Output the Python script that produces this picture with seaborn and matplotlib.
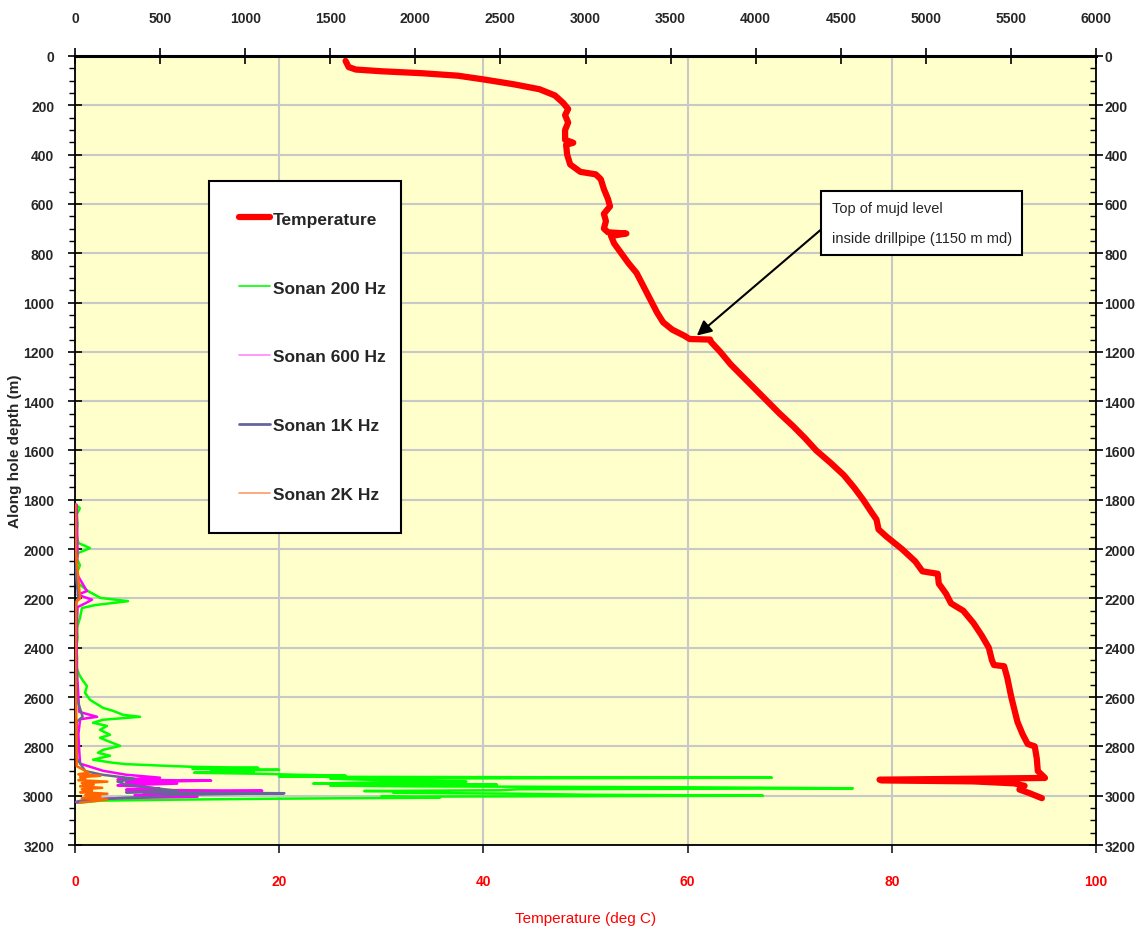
import numpy as np
import pandas as pd
import matplotlib
matplotlib.use("Agg")
import matplotlib.pyplot as plt
import seaborn as sns
from matplotlib.ticker import MultipleLocator
from matplotlib.lines import Line2D

# ---------------- data ----------------
temp_depth = [20, 45, 55, 62, 70, 80, 95, 115, 135, 160, 190, 215, 240, 270, 300, 340, 352, 360,
              400, 440, 470, 480, 500, 540, 580, 610, 640, 670, 700, 715, 720, 730, 760, 800,
              840, 880, 920, 960, 1000, 1040, 1080, 1110, 1135, 1148, 1150, 1160, 1200, 1250,
              1300, 1350, 1400, 1450, 1500, 1550, 1600, 1650, 1700, 1750, 1800, 1850, 1880,
              1920, 1950, 2000, 2050, 2090, 2100, 2140, 2180, 2220, 2250, 2300, 2350, 2400,
              2450, 2470, 2475, 2520, 2560, 2600, 2650, 2700, 2750, 2790, 2800, 2850, 2900,
              2928, 2935, 2938, 2942, 2950, 2960, 2975, 2990, 3010]
temp_val = [26.5, 26.8, 27.5, 30.0, 34.0, 37.5, 40.0, 43.0, 45.5, 47.0, 47.8, 48.3, 48.0, 48.3,
            48.0, 48.0, 48.8, 48.1, 48.2, 48.5, 49.5, 51.0, 51.5, 51.8, 52.2, 52.4, 51.8, 52.0,
            51.8, 52.2, 54.0, 52.5, 52.8, 53.5, 54.2, 55.0, 55.5, 56.0, 56.5, 57.0, 57.6, 58.5,
            59.7, 60.2, 62.2, 62.3, 63.2, 64.2, 65.4, 66.6, 67.8, 69.0, 70.3, 71.5, 72.6, 74.0,
            75.3, 76.3, 77.2, 78.0, 78.5, 78.7, 79.5, 81.0, 82.3, 83.0, 84.5, 84.6, 85.3, 85.8,
            87.0, 88.0, 88.8, 89.5, 89.8, 90.0, 91.0, 91.3, 91.5, 91.7, 92.0, 92.3, 92.8, 93.3,
            94.0, 94.2, 94.3, 95.0, 78.8, 79.0, 88.0, 92.0, 93.0, 92.5, 93.5, 94.7]

s200_depth = [1820, 1834, 1860, 1900, 1940, 1975, 1996, 2016, 2040, 2065, 2100, 2138, 2170, 2198,
              2211, 2227, 2239, 2279, 2320, 2360, 2400, 2440, 2482, 2510, 2534, 2555, 2583, 2611,
              2644, 2656, 2672, 2680, 2692, 2704, 2717, 2733, 2753, 2765, 2777, 2798, 2814, 2826,
              2838, 2854, 2866, 2872, 2879, 2883, 2887, 2891, 2895, 2899, 2903, 2907, 2911, 2915,
              2919, 2923, 2927, 2931, 2935, 2939, 2943, 2947, 2951, 2955, 2959, 2962, 2966, 2970,
              2974, 2978, 2981, 2984, 2988, 2992, 2996, 3000, 3004, 3008, 3012, 3016, 3020, 3028]
s200_val = [5, 29, 10, 15, 8, 20, 88, 18, 12, 29, 10, 18, 76, 150, 312, 118, 41, 29, 12, 15, 8, 12,
            10, 25, 47, 70, 59, 88, 165, 224, 282, 382, 165, 106, 188, 147, 206, 147, 188, 265,
            165, 135, 206, 106, 218, 300, 540, 700, 1076, 690, 1200, 800, 1050, 700, 1088, 1300,
            1590, 1200, 4095, 1500, 1700, 2000, 2300, 1700, 1400, 2480, 1500, 2000, 3600, 4571,
            2600, 2500, 1700, 2200, 1870, 2600, 3000, 4043, 1800, 2145, 1200, 600, 150, 20]

s600_depth = [1820, 1900, 2000, 2100, 2170, 2185, 2205, 2220, 2235, 2300, 2400, 2500, 2600, 2660,
              2680, 2690, 2750, 2820, 2870, 2899, 2915, 2927, 2935, 2939, 2945, 2951, 2958, 2964,
              2972, 2976, 2980, 2986, 2992, 2998, 3004, 3010, 3016, 3028]
s600_val = [10, 12, 15, 10, 70, 15, 100, 60, 15, 12, 10, 12, 20, 25, 130, 30, 20, 25, 30, 165, 300,
            500, 250, 800, 300, 600, 250, 400, 500, 300, 1100, 400, 800, 350, 720, 250, 100, 10]

s1k_depth = [1820, 1950, 2100, 2200, 2215, 2400, 2600, 2680, 2700, 2850, 2900, 2915, 2931, 2943,
             2955, 2968, 2980, 2986, 2990, 2996, 3004, 3016, 3025]
s1k_val = [5, 6, 5, 20, 8, 5, 8, 45, 10, 12, 60, 160, 350, 250, 300, 450, 600, 300, 1230, 600,
           450, 60, 5]

s2k_depth = [1820, 2000, 2200, 2215, 2500, 2700, 2880, 2907, 2913, 2919, 2925, 2931, 2937, 2943,
             2949, 2955, 2962, 2968, 2974, 2980, 2986, 2992, 2998, 3004, 3010, 3016, 3028]
s2k_val = [3, 4, 30, 5, 3, 8, 10, 80, 20, 150, 30, 60, 20, 190, 40, 110, 30, 160, 40, 100, 30,
           190, 60, 150, 40, 190, 30]

series_labels = ["Temperature", "Sonan 200 Hz", "Sonan 600 Hz", "Sonan 1K Hz", "Sonan 2K Hz"]
series_colors = ["#FF0000", "#00FF00", "#FF00FF", "#666699", "#FF6600"]

depth_ticks = list(range(0, 3201, 200))
temp_ticks = [0, 20, 40, 60, 80, 100]
sonan_ticks = list(range(0, 6001, 500))

# ---------------- style ----------------
sns.set_theme(style="white")
plt.rcParams['font.family'] = ['Liberation Sans', 'DejaVu Sans']

fig = plt.figure(figsize=(11.44, 9.37), dpi=100)
ax = fig.add_axes([0.06556, 0.0971, 0.8925, 0.8421])
ax.set_facecolor('#FFFFCC')

temp_df = pd.DataFrame({"depth": temp_depth, "T": temp_val})
sns.lineplot(data=temp_df, x="T", y="depth", sort=False, estimator=None,
             color=series_colors[0], lw=4.5, ax=ax, legend=False)

ax.set_xlim(0, 100)
ax.set_ylim(3200, 0)
ax.set_xticks(temp_ticks)
ax.set_yticks(depth_ticks)
ax.yaxis.set_minor_locator(MultipleLocator(50))
ax.grid(True, which='major', color='#C8C8C8', lw=1.5)
ax.set_axisbelow(True)

ax.tick_params(axis='x', which='both', bottom=False, top=False, labelbottom=True,
               labeltop=False, labelcolor='red', labelsize=10, pad=15)
ax.tick_params(axis='y', which='major', left=True, right=False, labelleft=True, labelright=False,
               direction='inout', length=10, width=1.2, color='black', labelsize=10, pad=10)
ax.tick_params(axis='y', which='minor', left=True, right=False, direction='out', length=4,
               width=1.0, color='black')
for lab in ax.get_xticklabels() + ax.get_yticklabels():
    lab.set_fontweight('bold')

ax.set_xlabel("Temperature (deg C)", color='red', fontsize=11)
ax.xaxis.set_label_coords(0.5, -0.084)
ax.set_ylabel("Along hole depth (m)", fontsize=11, fontweight='bold')
ax.yaxis.set_label_coords(-0.052, 0.5)

for sp in ax.spines.values():
    sp.set_color('black')
    sp.set_linewidth(1.3)
ax.spines['top'].set_linewidth(2.2)

# sonan series on the top axis
ax2 = ax.twiny()
for d, v, c in [(s200_depth, s200_val, series_colors[1]),
                (s600_depth, s600_val, series_colors[2]),
                (s1k_depth, s1k_val, series_colors[3]),
                (s2k_depth, s2k_val, series_colors[4])]:
    df = pd.DataFrame({"depth": d, "v": v})
    sns.lineplot(data=df, x="v", y="depth", sort=False, estimator=None, color=c, lw=1.8,
                 ax=ax2, legend=False)
ax2.set_xlim(0, 6000)
ax.set_ylim(3200, 0)
ax2.set_xticks(sonan_ticks)
ax2.set_xlabel("")
ax2.tick_params(axis='x', top=True, direction='inout', length=12, width=1.2, color='black',
                labelsize=10, pad=16)
for lab in ax2.get_xticklabels():
    lab.set_fontweight('bold')
for sp in ax2.spines.values():
    sp.set_visible(False)

# right-hand depth labels
ax3 = ax.twinx()
ax3.set_ylim(3200, 0)
ax3.set_yticks(depth_ticks)
ax3.yaxis.set_minor_locator(MultipleLocator(50))
ax3.tick_params(axis='y', which='major', right=True, direction='inout', length=10, width=1.2,
                color='black', labelsize=10, pad=1)
ax3.tick_params(axis='y', which='minor', right=True, direction='in', length=4, width=1.0,
                color='black')
for lab in ax3.get_yticklabels():
    lab.set_fontweight('bold')
for sp in ax3.spines.values():
    sp.set_visible(False)

# legend
handles = [Line2D([], [], color=series_colors[0], lw=4.5),
           Line2D([], [], color=series_colors[1], lw=1.2),
           Line2D([], [], color='#FF88FF', lw=1.2),
           Line2D([], [], color=series_colors[3], lw=2.0),
           Line2D([], [], color='#FF9966', lw=1.2)]
leg = ax3.legend(handles, series_labels, loc='upper left',
                 bbox_to_anchor=(209 / 1144, 1 - 182 / 937, 192 / 1144, 0),
                 bbox_transform=fig.transFigure, mode='expand', borderaxespad=0,
                 prop={'weight': 'bold', 'size': 12.5}, labelspacing=3.1, handlelength=1.75,
                 handletextpad=0.2, borderpad=1.75, fancybox=False, framealpha=1,
                 facecolor='white', edgecolor='black')
leg.get_frame().set_linewidth(1.5)

# annotation
ax.annotate("Top of mujd level\ninside drillpipe (1150 m md)", xy=(60.9, 1134),
            xytext=(74.1, 590), textcoords='data', ha='left', va='top', fontsize=10.5,
            linespacing=2.4,
            bbox=dict(boxstyle='square,pad=0.7', fc='white', ec='black', lw=1.5),
            arrowprops=dict(arrowstyle='-|>', color='black', lw=1.5, mutation_scale=22,
                            shrinkA=0, shrinkB=0, relpos=(0, 0.56)),
            zorder=10)

fig.savefig("out.png", dpi=100)
